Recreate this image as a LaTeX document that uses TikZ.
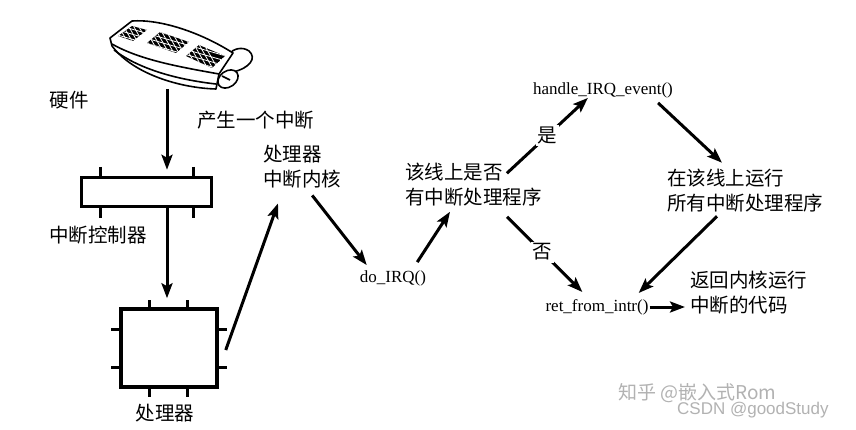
\documentclass[tikz,border=0pt]{standalone}
\usepackage{fontspec}
\setmainfont{Liberation Serif}
\newfontfamily\cjk{Noto Sans CJK SC}
\newfontfamily\wmsans{Liberation Sans}
\usetikzlibrary{arrows.meta,calc}
\begin{document}
\begin{tikzpicture}[x=1pt,y=-1pt,
 cn/.style={font=\cjk\fontsize{19.5}{25}\selectfont, inner sep=0pt, align=left},
 en/.style={font=\fontsize{17}{20}\selectfont, inner sep=0pt},
 box/.style={draw, line width=3.5pt, inner sep=0pt},
 tk/.style={line width=3pt},
 arr/.style={line width=3pt, -{Stealth[length=15pt,width=11pt,inset=3pt]}},
 lbl/.style={font=\cjk\fontsize{19.5}{25}\selectfont, fill=white, inner sep=2pt},
 wm/.style={text=black!30, inner sep=0pt}]
\fill[white] (0,0) rectangle (856,430);
\useasboundingbox (0,0) rectangle (856,430);

% ---- keyboard (hardware picture)
\begin{scope}[line width=1.6pt, line join=round]
\draw[fill=white] (233,72) .. controls (250,68) and (257,58) .. (249,51) .. controls (242,46) and (233,49) .. (229,54);
\draw[fill=white] (110,38) -- (132,21) .. controls (160,19) and (200,32) .. (233,53) -- (219,74) -- (216,89)
  .. controls (180,88) and (133,74) .. (112,46) -- cycle;
\draw (112,44) .. controls (140,60) and (180,67) .. (219,74);
\draw (114,50) .. controls (140,70) and (180,80) .. (216,84);
\foreach \p in {{(118,36) -- (132,26) -- (147,30) -- (133,41)},
                {(147,43) -- (160,32) -- (189,42) -- (176,53)},
                {(186,56) -- (199,45) -- (225,56) -- (212,68)}}{
  \begin{scope}
  \clip \p -- cycle;
  \fill[black] \p -- cycle;
  \foreach \k in {-40,-35,...,40}{\draw[white, line width=0.8pt] (150+\k,20) -- ++(40,70);}
  \foreach \k in {0,5,...,80}{\draw[white, line width=0.8pt] (100,\k) -- ++(140,40);}
  \end{scope}
}
\draw[fill=white, rotate around={35:(228,79)}] (228,79) ellipse [x radius=11, y radius=8];
\draw (222,76) -- (230,80);
\end{scope}
\coordinate (kb) at (167,89);

% ---- nodes
\node[cn] (hw) at (69,100) {硬件};
\node[cn, anchor=west] (gen) at (197,120) {产生一个中断};

\node[box, minimum width=130pt, minimum height=29pt] (ctrl) at (146.5,192) {};
\draw[tk] (100,167) -- (100,177) (193,167) -- (193,177) (100,208) -- (100,218) (193,208) -- (193,218);
\node[cn] (ctrllbl) at (98,235) {中断控制器};

\node[box, minimum width=96pt, minimum height=78pt] (cpu) at (169,348) {};
\draw[tk] (149,300) -- (149,309) (187,300) -- (187,309) (149,387) -- (149,397) (187,387) -- (187,397)
          (111,329) -- (121,329) (111,367) -- (121,367) (217,329) -- (227,329) (217,367) -- (227,367);
\node[cn] (cpulbl) at (165,413) {处理器};

\node[cn, anchor=north west] (core) at (263,145) {处理器\\中断内核};
\node[en] (doirq) at (393,278) {do\_IRQ()};
\node[cn, anchor=west] (query) at (405,185) {该线上是否\\有中断处理程序};
\node[en] (handle) at (603,90) {handle\_IRQ\_event()};
\node[cn, anchor=west] (run) at (667,190.5) {在该线上运行\\所有中断处理程序};
\node[en] (ret) at (597,307) {ret\_from\_intr()};
\node[cn, anchor=west] (back) at (690,292.5) {返回内核运行\\中断的代码};

% ---- connectors
\draw[arr, shorten >=6pt] (kb) -- (kb |- ctrl.north);
\draw[arr, shorten >=9pt] (kb |- ctrl.south) -- (kb |- cpu.north);
\draw[arr] ($(cpu.east)+(7,2)$) -- ($(core.south west)+(15,15)$);
\draw[arr] ($(core.south)+(10,7)$) -- ($(doirq.north west)+(7,-5)$);
\draw[arr] ($(doirq.north east)+(-9,-8)$) -- ($(query.south west)+(45,5)$);
\draw[arr] ($(query.north east)+(-35,10)$) -- node[lbl, pos=0.5] {是} ($(handle.south west)+(55,0)$);
\draw[arr] ($(handle.south east)+(-15,5)$) -- ($(run.north west)+(55,-6)$);
\draw[arr] ($(run.south west)+(50,4)$) -- ($(ret.north east)+(-10,-6)$);
\draw[arr] ($(query.south west)+(102,10)$) -- node[lbl, pos=0.47] {否} ($(ret.north west)+(37,-7)$);
\draw[arr, shorten >=5pt] ($(ret.east)+(1,0)$) -- (ret.east -| back.west);

% ---- watermarks
\node[wm, font=\cjk\fontsize{19}{22}\selectfont, anchor=west] (wm1) at (618,393) {知乎 @嵌入式Rom};
\node[wm, font=\wmsans\fontsize{17}{20}\selectfont, anchor=west] (wm2) at (677,410) {CSDN @goodStudy};
\end{tikzpicture}
\end{document}
